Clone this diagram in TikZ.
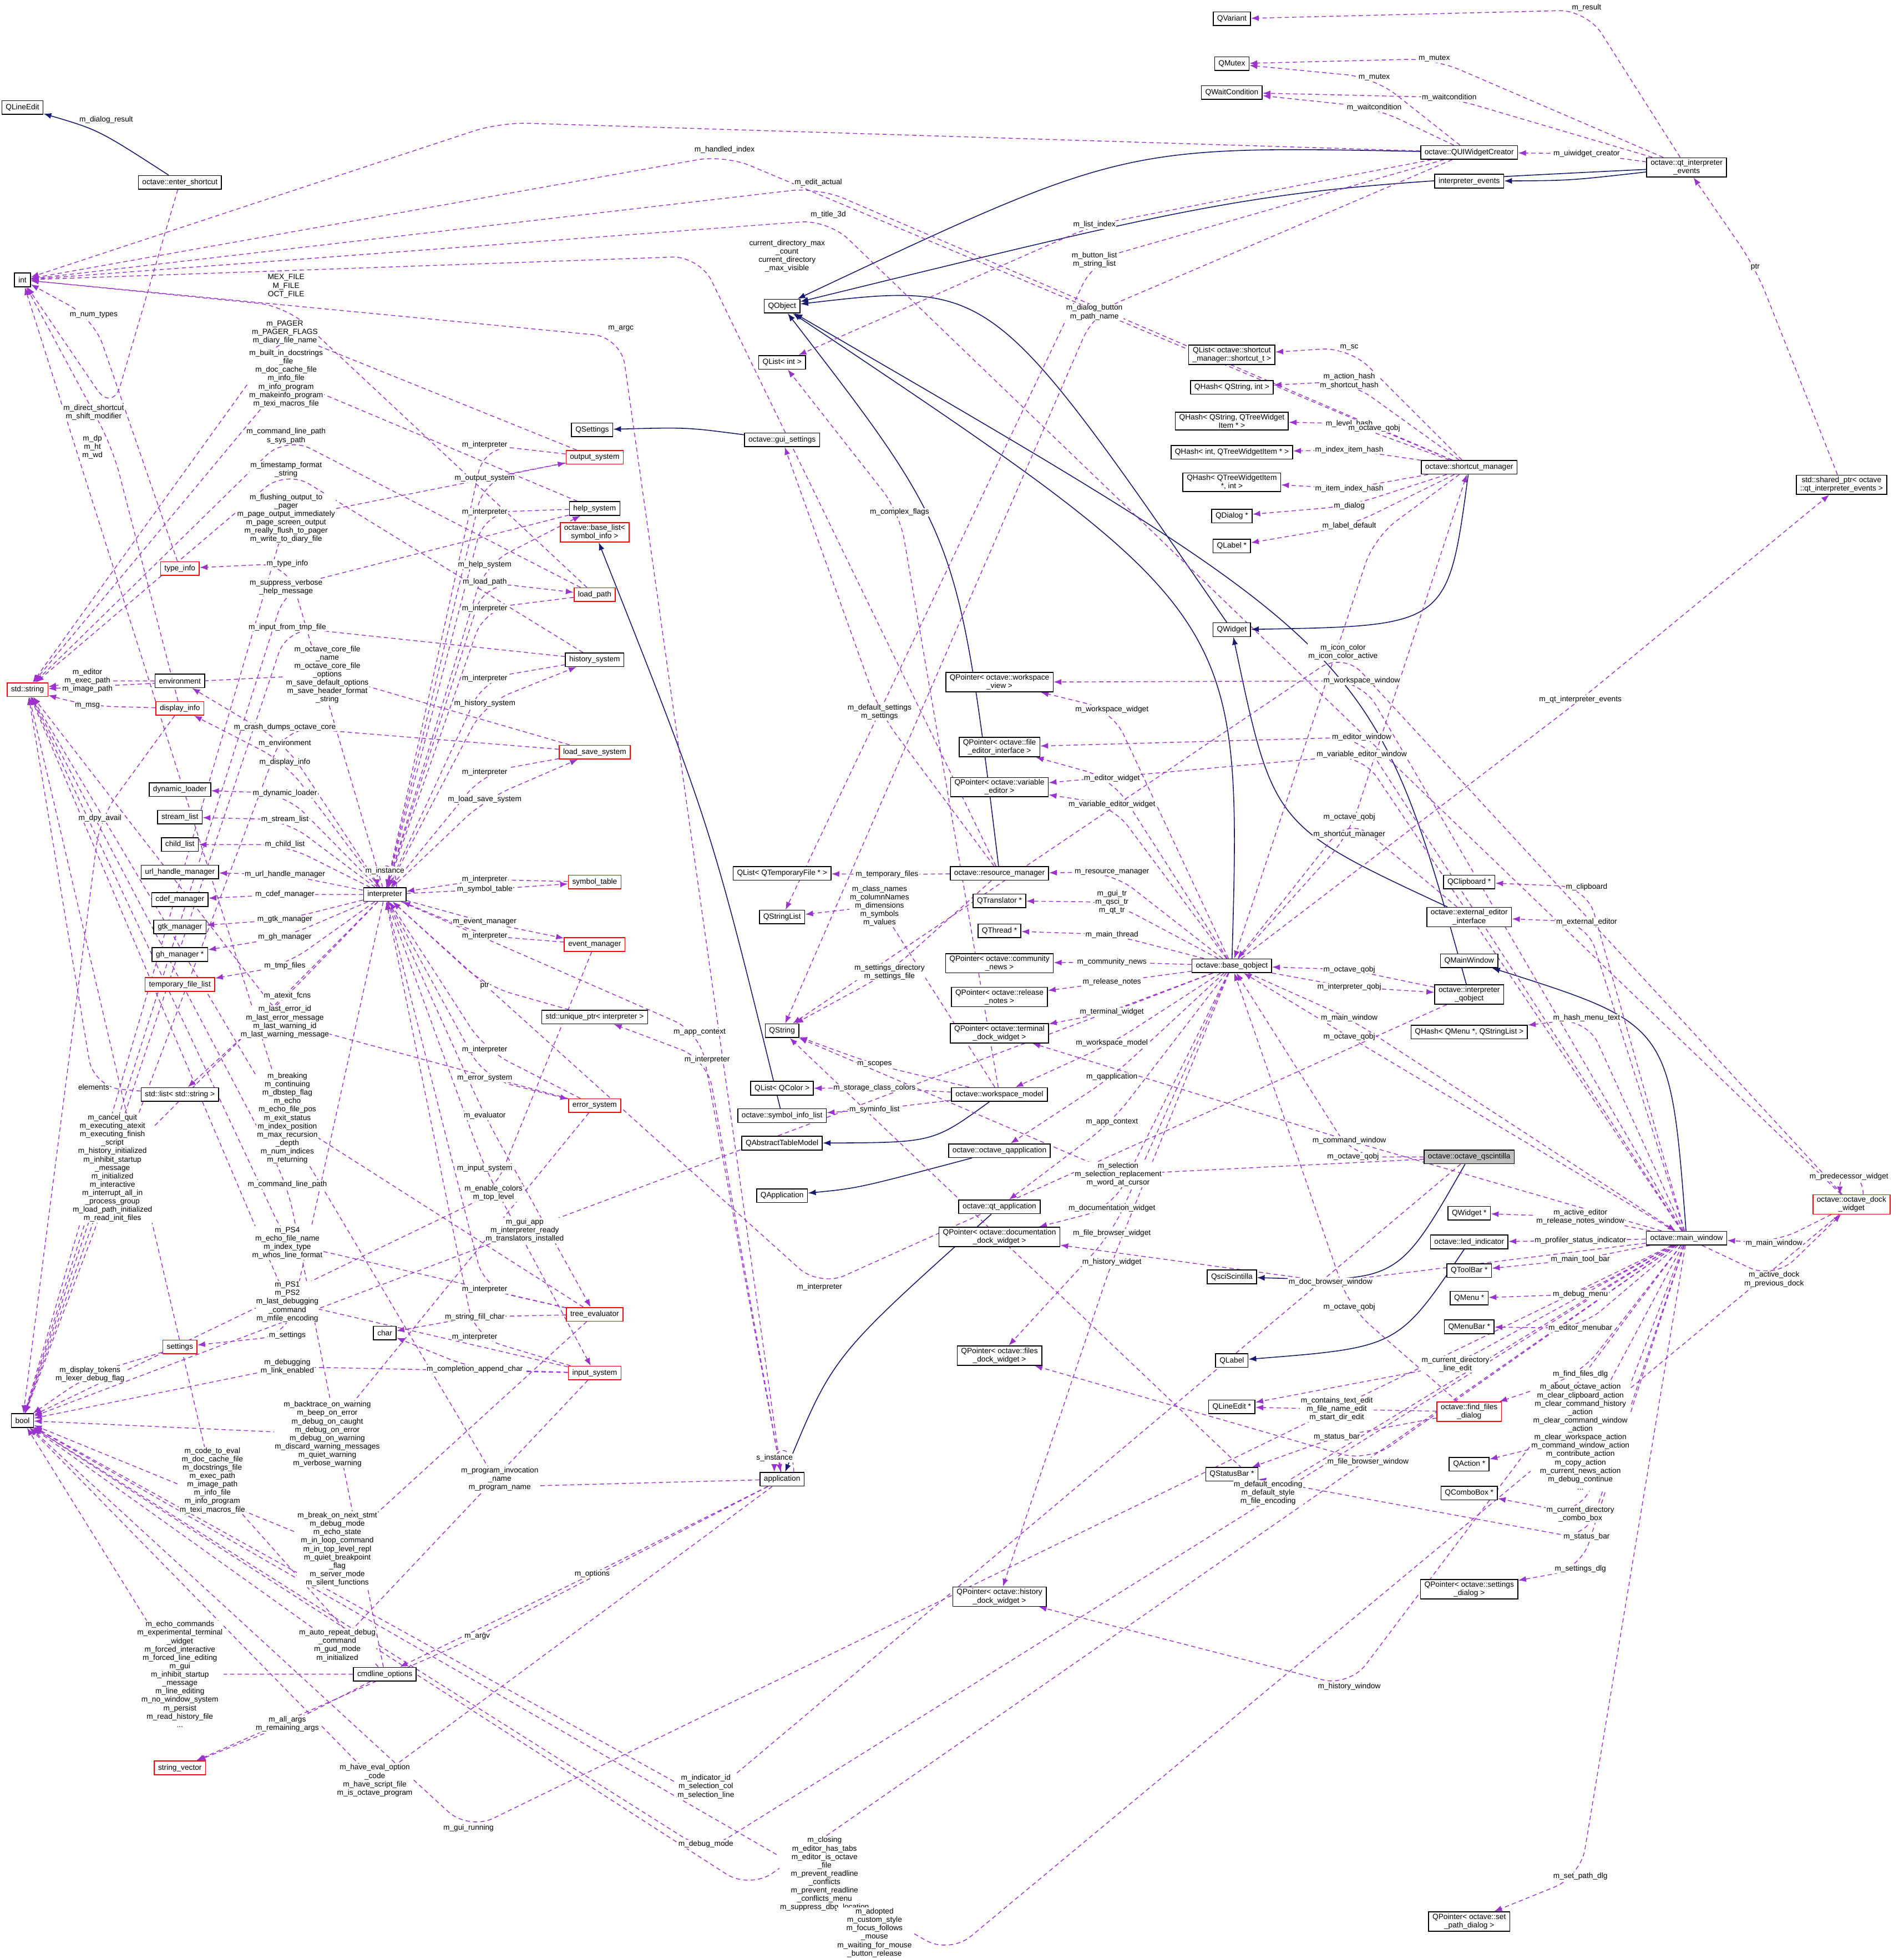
\documentclass[tikz,border=0pt]{standalone}
\usepackage{fontspec}
\setmainfont{Liberation Sans}
\usetikzlibrary{arrows.meta, calc, positioning}
\definecolor{usecolor}{RGB}{154, 50, 205}
\definecolor{inhcolor}{RGB}{25, 25, 112}
\definecolor{redline}{RGB}{255, 0, 0}
\pgfdeclarelayer{edges}
\pgfsetlayers{edges,main}
\tikzset{
  cls/.style={draw=black, fill=white, font=\fontsize{3.9}{4.3}\selectfont, align=center, inner xsep=2pt, inner ysep=1pt, minimum height=7pt, line width=0.45pt},
  redcls/.style={cls, draw=redline},
  rootcls/.style={cls, fill=black!25},
  use/.style={draw=usecolor, dashed, dash pattern=on 2.2pt off 1.6pt, line width=0.4pt, rounded corners=14pt, -{Latex[length=4pt,width=3pt]}},
  inh/.style={draw=inhcolor, line width=0.45pt, -{Latex[length=4pt,width=3pt]}},
  lbl/.style={font=\fontsize{3.9}{4.3}\selectfont, align=center, inner sep=0.4pt, fill=white}
}
% from, to, via, label position, label
\newcommand\uses[5]{%
  \begin{pgfonlayer}{edges}
  \draw[use] (#1) -- (#3) -- (#2);
  \end{pgfonlayer}
  \node[lbl] at (#4) {#5};}
% derived, base, via
\newcommand\isa[3]{%
  \begin{pgfonlayer}{edges}
  \draw[inh] (#1) .. controls ($2*(#3)-0.5*(#1)-0.5*(#2)$) .. (#2);
  \end{pgfonlayer}}
\begin{document}
\begin{tikzpicture}[x=0.2251mm, y=-0.2251mm]
    \useasboundingbox (0,0) rectangle (1524,1568);

    % left column
    \node[cls] (qlineedit) at (18,86) {QLineEdit};
    \node[cls] (entersc) at (144,146) {octave::enter\_shortcut};
    \node[cls] (int) at (18,224) {int};
    \node[redcls] (stdstr) at (22,552) {std::string};
    \node[cls] (bool) at (18,1137) {bool};
    \node[redcls] (typeinfo) at (144,455) {type\_info};
    \node[cls] (env) at (144,545) {environment};
    \node[redcls] (dispinfo) at (144,567) {display\_info};
    \node[cls] (dynld) at (144,632) {dynamic\_loader};
    \node[cls] (streamlist) at (144,654) {stream\_list};
    \node[cls] (childlist) at (144,676) {child\_list};
    \node[cls] (urlhm) at (144,698) {url\_handle\_manager};
    \node[cls] (cdefm) at (144,720) {cdef\_manager};
    \node[cls] (gtkm) at (144,742) {gtk\_manager};
    \node[cls] (ghm) at (144,764) {gh\_manager *};
    \node[redcls] (tmpfl) at (144,788) {temporary\_file\_list};
    \node[cls] (strlist) at (144,876) {std::list< std::string >};
    \node[redcls] (settings) at (144,1078) {settings};
    \node[redcls] (strvec) at (144,1415) {string\_vector};
    \node[cls] (interp) at (308,716) {interpreter};
    \node[cls] (charn) at (308,1067) {char};
    \node[cls] (cmdopts) at (308,1340) {cmdline\_options};

    % subsystems
    \node[cls] (qsettings) at (474,344) {QSettings};
    \node[redcls] (outsys) at (476,366) {output\_system};
    \node[cls] (helpsys) at (476,407) {help\_system};
    \node[redcls] (baselist) at (476,426) {octave::base\_list<\\symbol\_info >};
    \node[redcls] (loadpath) at (476,476) {load\_path};
    \node[cls] (histsys) at (476,528) {history\_system};
    \node[redcls] (lssys) at (476,602) {load\_save\_system};
    \node[redcls] (symtab) at (476,706) {symbol\_table};
    \node[redcls] (evmgr) at (476,756) {event\_manager};
    \node[cls] (uniqptr) at (476,814) {std::unique\_ptr< interpreter >};
    \node[redcls] (errsys) at (476,885) {error\_system};
    \node[redcls] (treeeval) at (476,1052) {tree\_evaluator};
    \node[redcls] (inputsys) at (476,1099) {input\_system};

    % Qt column
    \node[cls] (qobject) at (626,245) {QObject};
    \node[cls] (qlistint) at (626,290) {QList< int >};
    \node[cls] (guiset) at (626,352) {octave::gui\_settings};
    \node[cls] (qlisttmp) at (626,699) {QList< QTemporaryFile * >};
    \node[cls] (qstrlist) at (626,734) {QStringList};
    \node[cls] (qstring) at (626,825) {QString};
    \node[cls] (qlistcol) at (626,871) {QList< QColor >};
    \node[cls] (syminfo) at (626,893) {octave::symbol\_info\_list};
    \node[cls] (qatm) at (626,915) {QAbstractTableModel};
    \node[cls] (qapp) at (626,957) {QApplication};
    \node[cls] (app) at (626,1184) {application};

    % pointers
    \node[cls] (resmgr) at (800,699) {octave::resource\_manager};
    \node[cls] (wsmodel) at (800,876) {octave::workspace\_model};
    \node[cls] (oqapp) at (800,921) {octave::octave\_qapplication};
    \node[cls] (qtapp) at (800,966) {octave::qt\_application};
    \node[cls] (pwsview) at (800,546) {QPointer< octave::workspace\\\_view >};
    \node[cls] (pfeditor) at (800,598) {QPointer< octave::file\\\_editor\_interface >};
    \node[cls] (pvared) at (800,630) {QPointer< octave::variable\\\_editor >};
    \node[cls] (qtrans) at (800,721) {QTranslator *};
    \node[cls] (qthread) at (800,745) {QThread *};
    \node[cls] (pnews) at (800,771) {QPointer< octave::community\\\_news >};
    \node[cls] (prelnotes) at (800,798) {QPointer< octave::release\\\_notes >};
    \node[cls] (pterm) at (800,827) {QPointer< octave::terminal\\\_dock\_widget >};
    \node[cls] (pdoc) at (800,990) {QPointer< octave::documentation\\\_dock\_widget >};
    \node[cls] (pfiles) at (800,1085) {QPointer< octave::files\\\_dock\_widget >};
    \node[cls] (phist) at (800,1278) {QPointer< octave::history\\\_dock\_widget >};

    % base_qobject column
    \node[cls] (baseq) at (986,773) {octave::base\_qobject};
    \node[cls] (qvariant) at (986,15) {QVariant};
    \node[cls] (qmutex) at (986,51) {QMutex};
    \node[cls] (qwaitc) at (986,74) {QWaitCondition};
    \node[cls] (qlistsc) at (986,284) {QList< octave::shortcut\\\_manager::shortcut\_t >};
    \node[cls] (qhsi) at (986,310) {QHash< QString, int >};
    \node[cls] (qhst) at (986,337) {QHash< QString, QTreeWidget\\Item * >};
    \node[cls] (qhit) at (986,362) {QHash< int, QTreeWidgetItem * >};
    \node[cls] (qhti) at (986,386) {QHash< QTreeWidgetItem\\*, int >};
    \node[cls] (qdialog) at (986,413) {QDialog *};
    \node[cls] (qlabelp) at (986,437) {QLabel *};
    \node[cls] (qwidget) at (986,504) {QWidget};
    \node[cls] (qscis) at (986,1022) {QsciScintilla};
    \node[cls] (qlabel) at (986,1089) {QLabel};
    \node[cls] (qlineeditp) at (986,1126) {QLineEdit *};
    \node[cls] (qstatus) at (986,1180) {QStatusBar *};

    % right columns
    \node[cls] (uiwc) at (1176,122) {octave::QUIWidgetCreator};
    \node[cls] (ievents) at (1176,145) {interpreter\_events};
    \node[cls] (qtievents) at (1350,134) {octave::qt\_interpreter\\\_events};
    \node[cls] (scmgr) at (1176,374) {octave::shortcut\_manager};
    \node[cls] (sharedp) at (1474,388) {std::shared\_ptr< octave\\::qt\_interpreter\_events >};
    \node[cls] (qclip) at (1176,706) {QClipboard *};
    \node[cls] (extedit) at (1176,734) {octave::external\_editor\\\_interface};
    \node[cls] (qmainw) at (1176,769) {QMainWindow};
    \node[cls] (iqobj) at (1176,796) {octave::interpreter\\\_qobject};
    \node[cls] (qhmenu) at (1176,826) {QHash< QMenu *, QStringList >};
    \node[rootcls] (qsci) at (1176,926) {octave::octave\_qscintilla};
    \node[cls] (qwidgetp) at (1176,971) {QWidget *};
    \node[cls] (led) at (1176,994) {octave::led\_indicator};
    \node[cls] (qtoolbar) at (1176,1017) {QToolBar *};
    \node[cls] (qmenu) at (1176,1039) {QMenu *};
    \node[cls] (qmenubar) at (1176,1062) {QMenuBar *};
    \node[redcls] (findfiles) at (1176,1130) {octave::find\_files\\\_dialog};
    \node[cls] (qaction) at (1176,1172) {QAction *};
    \node[cls] (qcombo) at (1176,1195) {QComboBox *};
    \node[cls] (psettings) at (1176,1272) {QPointer< octave::settings\\\_dialog >};
    \node[cls] (psetpath) at (1176,1538) {QPointer< octave::set\\\_path\_dialog >};
    \node[cls] (mainw) at (1350,991) {octave::main\_window};
    \node[redcls] (dock) at (1482,964) {octave::octave\_dock\\\_widget};

    % inheritance
    \isa{entersc}{qlineedit}{80,110}
    \isa{uiwc}{qobject}{900,150}
    \isa{qtievents}{ievents}{1260,142}
    \isa{qtievents}{qobject}{1000,170}
    \isa{guiset}{qsettings}{550,345}
    \isa{qwidget}{qobject}{800,300}
    \isa{scmgr}{qwidget}{1120,470}
    \isa{extedit}{qwidget}{1050,640}
    \isa{resmgr}{qobject}{740,450}
    \isa{baseq}{qobject}{900,500}
    \isa{iqobj}{qobject}{1000,520}
    \isa{mainw}{qmainw}{1300,850}
    \isa{syminfo}{baselist}{560,660}
    \isa{wsmodel}{qatm}{730,905}
    \isa{oqapp}{qapp}{700,945}
    \isa{qtapp}{app}{690,1080}
    \isa{qsci}{qscis}{1100,1000}
    \isa{led}{qlabel}{1100,1060}

    % usage: towards int
    \uses{uiwc}{int}{400,98}{85,96}{m\_dialog\_result}
    \uses{scmgr}{int}{580,124}{580,120}{m\_handled\_index}
    \uses{scmgr}{int}{655,150}{655,146}{m\_edit\_actual}
    \uses{dock}{int}{663,176}{663,172}{m\_title\_3d}
    \uses{resmgr}{int}{560,205}{630,205}{current\_directory\_max\\\_count\\current\_directory\\\_max\_visible}
    \uses{app}{int}{497,270}{497,263}{m\_argc}
    \uses{loadpath}{int}{229,245}{229,229}{MEX\_FILE\\M\_FILE\\OCT\_FILE}
    \uses{typeinfo}{int}{75,255}{75,252}{m\_num\_types}
    \uses{entersc}{int}{90,330}{75,330}{m\_direct\_shortcut\\m\_shift\_modifier}
    \uses{dispinfo}{int}{90,358}{74,358}{m\_dp\\m\_ht\\m\_wd}

    % towards std::string
    \uses{outsys}{stdstr}{228,266}{228,266}{m\_PAGER\\m\_PAGER\_FLAGS\\m\_diary\_file\_name}
    \uses{helpsys}{stdstr}{229,303}{229,303}{m\_built\_in\_docstrings\\\_file\\m\_doc\_cache\_file\\m\_info\_file\\m\_info\_program\\m\_makeinfo\_program\\m\_texi\_macros\_file}
    \uses{loadpath}{stdstr}{229,349}{229,349}{m\_command\_line\_path\\s\_sys\_path}
    \uses{histsys}{stdstr}{229,376}{229,376}{m\_timestamp\_format\\\_string}
    \uses{lssys}{stdstr}{262,540}{262,540}{m\_octave\_core\_file\\\_name\\m\_octave\_core\_file\\\_options\\m\_save\_default\_options\\m\_save\_header\_format\\\_string}
    \uses{env}{stdstr}{70,545}{70,545}{m\_editor\\m\_exec\_path\\m\_image\_path}
    \uses{dispinfo}{stdstr}{70,565}{70,565}{m\_msg}
    \uses{errsys}{stdstr}{228,818}{228,818}{m\_last\_error\_id\\m\_last\_error\_message\\m\_last\_warning\_id\\m\_last\_warning\_message}
    \uses{strlist}{stdstr}{75,870}{75,870}{elements}
    \uses{cmdopts}{stdstr}{230,948}{230,948}{m\_command\_line\_path}
    \uses{treeeval}{stdstr}{230,995}{230,995}{m\_PS4\\m\_echo\_file\_name\\m\_index\_type\\m\_whos\_line\_format}
    \uses{inputsys}{stdstr}{230,1042}{230,1042}{m\_PS1\\m\_PS2\\m\_last\_debugging\\\_command\\m\_mfile\_encoding}
    \uses{cmdopts}{stdstr}{170,1185}{170,1185}{m\_code\_to\_eval\\m\_doc\_cache\_file\\m\_docstrings\_file\\m\_exec\_path\\m\_image\_path\\m\_info\_file\\m\_info\_program\\m\_texi\_macros\_file}
    \uses{app}{stdstr}{400,1190}{400,1184}{m\_program\_invocation\\\_name\\m\_program\_name}

    % towards bool
    \uses{outsys}{bool}{229,415}{229,415}{m\_flushing\_output\_to\\\_pager\\m\_page\_output\_immediately\\m\_page\_screen\_output\\m\_really\_flush\_to\_pager\\m\_write\_to\_diary\_file}
    \uses{helpsys}{bool}{229,470}{229,470}{m\_suppress\_verbose\\\_help\_message}
    \uses{histsys}{bool}{230,502}{230,502}{m\_input\_from\_tmp\_file}
    \uses{lssys}{bool}{228,582}{228,582}{m\_crash\_dumps\_octave\_core}
    \uses{dispinfo}{bool}{80,655}{80,655}{m\_dpy\_avail}
    \uses{treeeval}{int}{230,895}{230,895}{m\_breaking\\m\_continuing\\m\_dbstep\_flag\\m\_echo\\m\_echo\_file\_pos\\m\_exit\_status\\m\_index\_position\\m\_max\_recursion\\\_depth\\m\_num\_indices\\m\_returning}
    \uses{interp}{bool}{90,935}{90,935}{m\_cancel\_quit\\m\_executing\_atexit\\m\_executing\_finish\\\_script\\m\_history\_initialized\\m\_inhibit\_startup\\\_message\\m\_initialized\\m\_interactive\\m\_interrupt\_all\_in\\\_process\_group\\m\_load\_path\_initialized\\m\_read\_init\_files}
    \uses{settings}{bool}{72,1100}{72,1100}{m\_display\_tokens\\m\_lexer\_debug\_flag}
    \uses{inputsys}{bool}{230,1094}{230,1094}{m\_debugging\\m\_link\_enabled}
    \uses{errsys}{bool}{262,1148}{262,1148}{m\_backtrace\_on\_warning\\m\_beep\_on\_error\\m\_debug\_on\_caught\\m\_debug\_on\_error\\m\_debug\_on\_warning\\m\_discard\_warning\_messages\\m\_quiet\_warning\\m\_verbose\_warning}
    \uses{treeeval}{bool}{270,1240}{270,1240}{m\_break\_on\_next\_stmt\\m\_debug\_mode\\m\_echo\_state\\m\_in\_loop\_command\\m\_in\_top\_level\_repl\\m\_quiet\_breakpoint\\\_flag\\m\_server\_mode\\m\_silent\_functions}
    \uses{inputsys}{bool}{270,1317}{270,1317}{m\_auto\_repeat\_debug\\\_command\\m\_gud\_mode\\m\_initialized}
    \uses{cmdopts}{bool}{144,1340}{144,1340}{m\_echo\_commands\\m\_experimental\_terminal\\\_widget\\m\_forced\_interactive\\m\_forced\_line\_editing\\m\_gui\\m\_inhibit\_startup\\\_message\\m\_line\_editing\\m\_no\_window\_system\\m\_persist\\m\_read\_history\_file\\...}
    \uses{app}{bool}{300,1425}{300,1425}{m\_have\_eval\_option\\\_code\\m\_have\_script\_file\\m\_is\_octave\_program}
    \uses{evmgr}{bool}{395,955}{395,955}{m\_enable\_colors\\m\_top\_level}
    \uses{baseq}{bool}{420,985}{420,985}{m\_gui\_app\\m\_interpreter\_ready\\m\_translators\_installed}
    \uses{mainw}{bool}{375,1465}{375,1463}{m\_gui\_running}
    \uses{qsci}{bool}{565,1440}{565,1430}{m\_indicator\_id\\m\_selection\_col\\m\_selection\_line}
    \uses{mainw}{bool}{565,1482}{565,1476}{m\_debug\_mode}
    \uses{mainw}{bool}{600,1512}{660,1500}{m\_closing\\m\_editor\_has\_tabs\\m\_editor\_is\_octave\\\_file\\m\_prevent\_readline\\\_conflicts\\m\_prevent\_readline\\\_conflicts\_menu\\m\_suppress\_dbg\_location}
    \uses{dock}{bool}{760,1564}{700,1547}{m\_adopted\\m\_custom\_style\\m\_focus\_follows\\\_mouse\\m\_waiting\_for\_mouse\\\_button\_release}

    % interpreter and its parts
    \uses{interp}{typeinfo}{230,451}{230,451}{m\_type\_info}
    \uses{interp}{env}{228,595}{228,595}{m\_environment}
    \uses{interp}{dispinfo}{228,610}{228,610}{m\_display\_info}
    \uses{interp}{dynld}{228,635}{228,635}{m\_dynamic\_loader}
    \uses{interp}{streamlist}{228,656}{228,656}{m\_stream\_list}
    \uses{interp}{childlist}{228,676}{228,676}{m\_child\_list}
    \uses{interp}{urlhm}{228,700}{228,700}{m\_url\_handle\_manager}
    \uses{interp}{cdefm}{228,716}{228,716}{m\_cdef\_manager}
    \uses{interp}{gtkm}{228,736}{228,736}{m\_gtk\_manager}
    \uses{interp}{ghm}{228,750}{228,750}{m\_gh\_manager}
    \uses{interp}{tmpfl}{228,773}{228,773}{m\_tmp\_files}
    \uses{interp}{strlist}{230,797}{230,797}{m\_atexit\_fcns}
    \uses{interp}{settings}{230,1069}{230,1069}{m\_settings}
    \uses{interp}{outsys}{388,383}{388,383}{m\_output\_system}
    \uses{interp}{helpsys}{388,452}{388,452}{m\_help\_system}
    \uses{interp}{loadpath}{388,466}{388,466}{m\_load\_path}
    \uses{interp}{histsys}{388,563}{388,563}{m\_history\_system}
    \uses{interp}{lssys}{388,640}{388,640}{m\_load\_save\_system}
    \uses{interp}{symtab}{388,712}{388,712}{m\_symbol\_table}
    \uses{interp}{evmgr}{388,738}{388,738}{m\_event\_manager}
    \uses{interp}{errsys}{388,863}{388,863}{m\_error\_system}
    \uses{interp}{treeeval}{388,893}{388,893}{m\_evaluator}
    \uses{interp}{inputsys}{388,935}{388,935}{m\_input\_system}
    \uses{outsys}{interp}{388,356}{388,356}{m\_interpreter}
    \uses{helpsys}{interp}{388,410}{388,410}{m\_interpreter}
    \uses{loadpath}{interp}{388,487}{388,487}{m\_interpreter}
    \uses{histsys}{interp}{388,543}{388,543}{m\_interpreter}
    \uses{lssys}{interp}{388,618}{388,618}{m\_interpreter}
    \uses{symtab}{interp}{388,704}{388,704}{m\_interpreter}
    \uses{evmgr}{interp}{388,749}{388,749}{m\_interpreter}
    \uses{uniqptr}{interp}{388,789}{388,789}{ptr}
    \uses{errsys}{interp}{388,840}{388,840}{m\_interpreter}
    \uses{treeeval}{interp}{388,1032}{388,1032}{m\_interpreter}
    \uses{inputsys}{interp}{380,1070}{380,1070}{m\_interpreter}
    \uses{treeeval}{charn}{380,1054}{380,1054}{m\_string\_fill\_char}
    \uses{inputsys}{charn}{380,1096}{380,1096}{m\_completion\_append\_char}
    \uses{interp}{app}{560,826}{560,826}{m\_app\_context}
    \uses{app}{uniqptr}{566,848}{566,848}{m\_interpreter}
    \uses{iqobj}{interp}{656,1030}{656,1030}{m\_interpreter}
    \uses{app}{cmdopts}{474,1260}{474,1260}{m\_options}
    \uses{app}{strvec}{382,1310}{382,1310}{m\_argv}
    \uses{cmdopts}{strvec}{230,1380}{230,1380}{m\_all\_args\\m\_remaining\_args}
    \begin{pgfonlayer}{edges}
    \draw[use, rounded corners=0pt] ([xshift=6pt]interp.north) .. controls +(0,14pt) and +(0,14pt) .. ([xshift=-4pt]interp.north);
    \draw[use, rounded corners=0pt] ([xshift=6pt]app.north) .. controls +(0,14pt) and +(0,14pt) .. ([xshift=-4pt]app.north);
    \draw[use, rounded corners=0pt] ([xshift=6pt]dock.north) .. controls +(0,12pt) and +(0,12pt) .. ([xshift=-6pt]dock.north);
    \end{pgfonlayer}
    \node[lbl] at (308,697) {m\_instance};
    \node[lbl] at (620,1167) {s\_instance};
    \node[lbl] at (1480,942) {m\_predecessor\_widget};

    % QUIWidgetCreator and events
    \uses{qtievents}{qvariant}{1270,8}{1270,6}{m\_result}
    \uses{qtievents}{qmutex}{1148,47}{1148,47}{m\_mutex}
    \uses{uiwc}{qmutex}{1100,62}{1100,62}{m\_mutex}
    \uses{qtievents}{qwaitc}{1160,78}{1160,78}{m\_waitcondition}
    \uses{uiwc}{qwaitc}{1100,86}{1100,86}{m\_waitcondition}
    \uses{qtievents}{uiwc}{1270,123}{1270,123}{m\_uiwidget\_creator}
    \uses{sharedp}{qtievents}{1405,214}{1405,214}{ptr}
    \uses{baseq}{sharedp}{1265,560}{1265,560}{m\_qt\_interpreter\_events}
    \uses{uiwc}{qlistint}{876,180}{876,180}{m\_list\_index}
    \uses{uiwc}{qstrlist}{876,208}{876,208}{m\_button\_list\\m\_string\_list}
    \uses{uiwc}{qstring}{876,250}{876,250}{m\_dialog\_button\\m\_path\_name}
    \uses{wsmodel}{qlistint}{720,410}{720,410}{m\_complex\_flags}

    % shortcut manager
    \uses{scmgr}{qlistsc}{1080,278}{1080,278}{m\_sc}
    \uses{scmgr}{qhsi}{1080,305}{1080,305}{m\_action\_hash\\m\_shortcut\_hash}
    \uses{scmgr}{qhst}{1080,339}{1080,339}{m\_level\_hash}
    \uses{scmgr}{qhit}{1080,360}{1080,360}{m\_index\_item\_hash}
    \uses{scmgr}{qhti}{1080,391}{1080,391}{m\_item\_index\_hash}
    \uses{scmgr}{qdialog}{1080,405}{1080,405}{m\_dialog}
    \uses{scmgr}{qlabelp}{1080,421}{1080,421}{m\_label\_default}
    \uses{scmgr}{baseq}{1100,430}{1100,343}{m\_octave\_qobj}
    \uses{baseq}{scmgr}{1080,668}{1080,668}{m\_shortcut\_manager}

    % resource manager, workspace model
    \uses{resmgr}{guiset}{704,570}{704,570}{m\_default\_settings\\m\_settings}
    \uses{resmgr}{qlisttmp}{710,700}{710,700}{m\_temporary\_files}
    \uses{resmgr}{qstring}{712,778}{712,778}{m\_settings\_directory\\m\_settings\_file}
    \uses{wsmodel}{qstrlist}{704,725}{704,725}{m\_class\_names\\m\_columnNames\\m\_dimensions\\m\_symbols\\m\_values}
    \uses{wsmodel}{qstring}{700,852}{700,852}{m\_scopes}
    \uses{wsmodel}{qlistcol}{700,871}{700,871}{m\_storage\_class\_colors}
    \uses{wsmodel}{syminfo}{700,888}{700,888}{m\_syminfo\_list}

    % base_qobject members
    \uses{baseq}{resmgr}{890,698}{890,698}{m\_resource\_manager}
    \uses{baseq}{qtrans}{890,722}{890,722}{m\_gui\_tr\\m\_qsci\_tr\\m\_qt\_tr}
    \uses{baseq}{qthread}{890,748}{890,748}{m\_main\_thread}
    \uses{baseq}{pnews}{890,770}{890,770}{m\_community\_news}
    \uses{baseq}{prelnotes}{890,786}{890,786}{m\_release\_notes}
    \uses{baseq}{pterm}{890,810}{890,810}{m\_terminal\_widget}
    \uses{baseq}{wsmodel}{890,835}{890,835}{m\_workspace\_model}
    \uses{baseq}{pwsview}{890,568}{890,568}{m\_workspace\_widget}
    \uses{baseq}{pfeditor}{890,623}{890,623}{m\_editor\_widget}
    \uses{baseq}{pvared}{890,644}{890,644}{m\_variable\_editor\_widget}
    \uses{baseq}{oqapp}{890,862}{890,862}{m\_qapplication}
    \uses{baseq}{qtapp}{890,898}{890,898}{m\_app\_context}
    \uses{baseq}{pdoc}{890,967}{890,967}{m\_documentation\_widget}
    \uses{baseq}{pfiles}{890,987}{890,987}{m\_file\_browser\_widget}
    \uses{baseq}{phist}{890,1010}{890,1010}{m\_history\_widget}
    \uses{baseq}{iqobj}{1080,790}{1080,790}{m\_interpreter\_qobj}
    \uses{baseq}{mainw}{1080,815}{1080,815}{m\_main\_window}
    \uses{iqobj}{baseq}{1080,776}{1080,776}{m\_octave\_qobj}
    \uses{extedit}{baseq}{1080,654}{1080,654}{m\_octave\_qobj}
    \uses{mainw}{baseq}{1080,830}{1080,830}{m\_octave\_qobj}
    \uses{qsci}{baseq}{1083,926}{1083,926}{m\_octave\_qobj}
    \uses{findfiles}{baseq}{1080,1046}{1080,1046}{m\_octave\_qobj}
    \uses{qsci}{qstring}{895,940}{895,940}{m\_selection\\m\_selection\_replacement\\m\_word\_at\_cursor}
    \uses{dock}{qstring}{1075,522}{1075,522}{m\_icon\_color\\m\_icon\_color\_active}

    % main window members
    \uses{mainw}{pwsview}{1090,545}{1090,545}{m\_workspace\_window}
    \uses{mainw}{pfeditor}{1090,590}{1090,590}{m\_editor\_window}
    \uses{mainw}{pvared}{1090,604}{1090,604}{m\_variable\_editor\_window}
    \uses{mainw}{qclip}{1270,710}{1270,710}{m\_clipboard}
    \uses{mainw}{extedit}{1270,738}{1270,738}{m\_external\_editor}
    \uses{mainw}{qhmenu}{1270,815}{1270,815}{m\_hash\_menu\_text}
    \uses{mainw}{pterm}{1080,913}{1080,913}{m\_command\_window}
    \uses{mainw}{pdoc}{1065,1026}{1065,1026}{m\_doc\_browser\_window}
    \uses{mainw}{pfiles}{1095,1170}{1095,1170}{m\_file\_browser\_window}
    \uses{mainw}{phist}{1080,1350}{1080,1350}{m\_history\_window}
    \uses{mainw}{qstring}{1015,1195}{1015,1195}{m\_default\_encoding\\m\_default\_style\\m\_file\_encoding}
    \uses{mainw}{qwidgetp}{1265,974}{1265,974}{m\_active\_editor\\m\_release\_notes\_window}
    \uses{mainw}{led}{1265,993}{1265,993}{m\_profiler\_status\_indicator}
    \uses{mainw}{qtoolbar}{1265,1008}{1265,1008}{m\_main\_tool\_bar}
    \uses{mainw}{qmenu}{1265,1036}{1265,1036}{m\_debug\_menu}
    \uses{mainw}{qmenubar}{1265,1063}{1265,1063}{m\_editor\_menubar}
    \uses{mainw}{qlineeditp}{1165,1092}{1165,1092}{m\_current\_directory\\\_line\_edit}
    \uses{mainw}{findfiles}{1265,1100}{1265,1100}{m\_find\_files\_dlg}
    \uses{mainw}{qaction}{1265,1150}{1265,1150}{m\_about\_octave\_action\\m\_clear\_clipboard\_action\\m\_clear\_command\_history\\\_action\\m\_clear\_command\_window\\\_action\\m\_clear\_workspace\_action\\m\_command\_window\_action\\m\_contribute\_action\\m\_copy\_action\\m\_current\_news\_action\\m\_debug\_continue\\...}
    \uses{mainw}{qcombo}{1265,1212}{1265,1212}{m\_current\_directory\\\_combo\_box}
    \uses{mainw}{qstatus}{1270,1232}{1270,1230}{m\_status\_bar}
    \uses{mainw}{psettings}{1265,1256}{1265,1256}{m\_settings\_dlg}
    \uses{mainw}{psetpath}{1265,1502}{1265,1502}{m\_set\_path\_dlg}
    \uses{mainw}{dock}{1420,1024}{1420,1024}{m\_active\_dock\\m\_previous\_dock}
    \uses{dock}{mainw}{1420,995}{1420,995}{m\_main\_window}
    \uses{findfiles}{qlineeditp}{1070,1128}{1070,1128}{m\_contains\_text\_edit\\m\_file\_name\_edit\\m\_start\_dir\_edit}
    \uses{findfiles}{qstatus}{1070,1150}{1070,1150}{m\_status\_bar}
\end{tikzpicture}
\end{document}
